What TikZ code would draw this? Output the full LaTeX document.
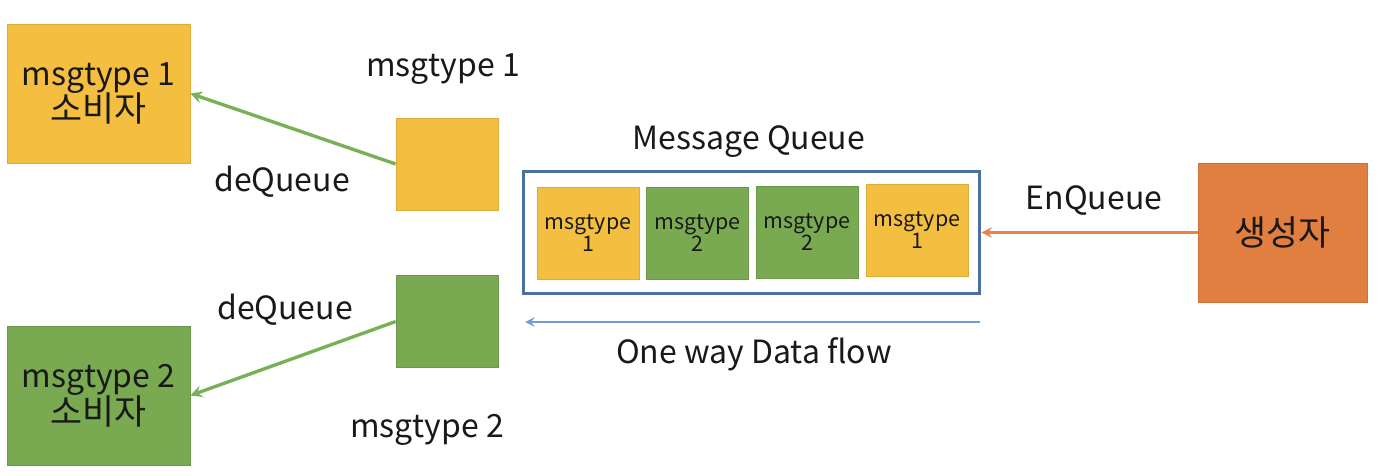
\documentclass[tikz,border=0pt]{standalone}
\usepackage{fontspec}
\setmainfont{Noto Sans CJK KR}
\usetikzlibrary{shapes.geometric, arrows}
\definecolor{msgyellow}{HTML}{F4BE41}
\definecolor{msggreen}{HTML}{79A951}
\definecolor{prodorange}{HTML}{E07F40}
\definecolor{queueblue}{HTML}{4A6FA5}
\definecolor{flowblue}{HTML}{6D9EDB}
\definecolor{deqgreen}{HTML}{77B055}
\definecolor{enqorange}{HTML}{E8844A}
\newcommand{\krtext}[1]{{\fontsize{19.8}{21}\selectfont #1}}
\tikzstyle{consumer} = [rectangle, minimum width=3.66cm, minimum height=2.78cm, text centered, align=center, text=black!90, font=\fontsize{18.2}{21}\selectfont]
\tikzstyle{msgbox} = [rectangle, minimum width=2.04cm, minimum height=1.84cm]
\tikzstyle{qitem} = [msgbox, align=center, text=black!90, font=\fontsize{12.2}{13}\selectfont]
\tikzstyle{txt} = [text=black!90, font=\fontsize{18.2}{21}\selectfont]
\tikzstyle{arrow} = [line width=1.9pt,->,>=stealth]

\begin{document}
\begin{tikzpicture}[x=0.02cm,y=-0.02cm]
\useasboundingbox (0,0) rectangle (1380,476);

\node (cons1) [consumer, fill=msgyellow, draw=msgyellow!90!black] at (98.5,93.5) {msgtype 1\\\krtext{소비자}};
\node (cons2) [consumer, fill=msggreen, draw=msggreen!90!black] at (98.5,395.5) {msgtype 2\\\krtext{소비자}};

\node (sq1) [msgbox, fill=msgyellow, draw=msgyellow!90!black] at (447,164) {};
\node (sq2) [msgbox, fill=msggreen, draw=msggreen!90!black] at (447,321.5) {};
\node (type1) [txt] at (443,69) {msgtype 1};
\node (type2) [txt] at (427,430) {msgtype 2};
\node (deq1) [txt] at (282,182) {deQueue};
\node (deq2) [txt] at (285,310) {deQueue};

\node (queue) [rectangle, draw=queueblue, line width=1.7pt, minimum width=9.14cm, minimum height=2.46cm] at (751.5,232.5) {};
\node (mq) [txt] at (749,142) {Message Queue};
\node (m1) [qitem, fill=msgyellow, draw=msgyellow!90!black] at (588,233) {msgtype\\1};
\node (m2) [qitem, fill=msggreen, draw=msggreen!90!black] at (697.5,233) {msgtype\\2};
\node (m3) [qitem, fill=msggreen, draw=msggreen!90!black] at (807,232) {msgtype\\2};
\node (m4) [qitem, fill=msgyellow, draw=msgyellow!90!black] at (917,230) {msgtype\\1};

\node (prod) [consumer, minimum width=3.38cm, fill=prodorange, draw=prodorange!90!black] at (1282.5,232.5) {\krtext{생성자}};
\node (enq) [txt] at (1094,201) {EnQueue};

\coordinate (flowstart) at (980,322);
\coordinate (flowend) at (525,322);
\node (flow) [txt] at (754,354) {One way Data flow};

\draw [arrow, deqgreen] (sq1.west) -- (cons1.east);
\draw [arrow, deqgreen] (sq2.west) -- (cons2.east);
\draw [arrow, enqorange, line width=1.6pt] (prod.west) -- (queue.east);
\draw [arrow, flowblue, line width=1.4pt] (flowstart) -- (flowend);

\end{tikzpicture}
\end{document}
